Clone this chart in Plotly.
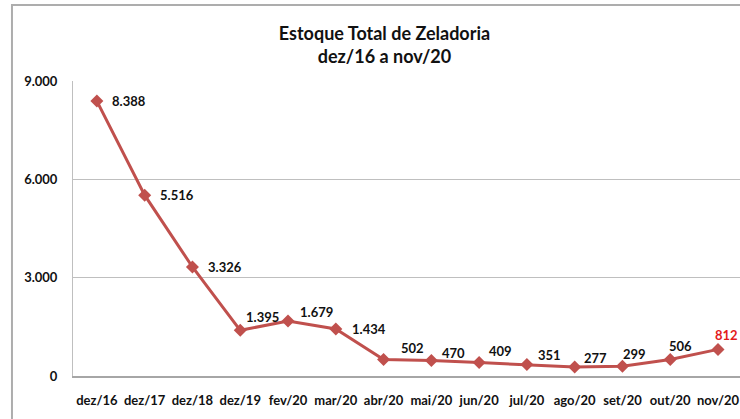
import plotly.graph_objects as go

categories = ["dez/16", "dez/17", "dez/18", "dez/19", "fev/20", "mar/20", "abr/20",
              "mai/20", "jun/20", "jul/20", "ago/20", "set/20", "out/20", "nov/20"]
values = [8388, 5516, 3326, 1395, 1679, 1434, 502, 470, 409, 351, 277, 299, 506, 812]
y_ticks = [0, 3000, 6000, 9000]

# label placement offsets (pixels): right shift, upward shift
label_dx = [13, 13, 14, 4, 10, 14, 15, 9, 8, 9, 7, -1, -3, -5]
label_dy = [0, 0, 0, 13, 9, 0, 12, 8, 12, 10, 9, 12, 13, 14]

LINE = "#C0504D"
FONT = "Lato"

def fmt(v):
    return f"{v:,}".replace(",", ".")

fig = go.Figure()
fig.add_trace(go.Scatter(
    x=list(range(len(categories))), y=values, mode="lines+markers",
    line=dict(color=LINE, width=3),
    marker=dict(symbol="diamond", size=10, color=LINE),
    hoverinfo="skip", showlegend=False,
))

for i, v in enumerate(values):
    last = i == len(values) - 1
    fig.add_annotation(
        x=i, y=v, text=f"<b>{fmt(v)}</b>", showarrow=False,
        xanchor="left", yanchor="middle",
        xshift=label_dx[i], yshift=label_dy[i],
        font=dict(family=FONT, size=13, color="#E31A1C" if last else "#111111"),
    )

fig.add_shape(type="rect", xref="paper", yref="paper",
              x0=-0.0915, x1=1.06, y0=-0.2, y1=1.2576,
              line=dict(color="#ADADAD", width=2), fillcolor="rgba(0,0,0,0)", layer="below")

fig.update_layout(
    width=740, height=419,
    margin=dict(l=73, r=0, t=81, b=43),
    paper_bgcolor="white", plot_bgcolor="white",
    separators=",.",
    title=dict(text="<b>Estoque Total de Zeladoria<br>dez/16 a nov/20</b>",
               x=384.5 / 740, xanchor="center", y=1 - 40 / 419, yanchor="middle",
               font=dict(family=FONT, size=18, color="#111111")),
    font=dict(family=FONT, size=13, color="#111111"),
)
fig.update_xaxes(
    tickmode="array", tickvals=list(range(len(categories))),
    ticktext=[f"<b>{c}</b>" for c in categories],
    range=[-0.5, 13.46], showgrid=False, zeroline=False,
    showline=True, linecolor="#A6A6A6", linewidth=2,
    ticks="", ticklabelstandoff=11,
    tickfont=dict(family=FONT, size=13, color="#111111"),
)
fig.update_yaxes(
    tickmode="array", tickvals=y_ticks,
    ticktext=[f"<b>{fmt(t)}</b>" for t in y_ticks],
    range=[0, 9000], showgrid=True, gridcolor="#BFBFBF", gridwidth=1,
    zeroline=False, showline=True, linecolor="#BFBFBF", linewidth=1,
    ticks="", ticklabelstandoff=12,
    tickfont=dict(family=FONT, size=13, color="#111111"),
)

fig.write_html("out.html", config={"displayModeBar": False, "staticPlot": True},
               post_script="document.body.style.margin='0';document.body.style.overflow='hidden';")
